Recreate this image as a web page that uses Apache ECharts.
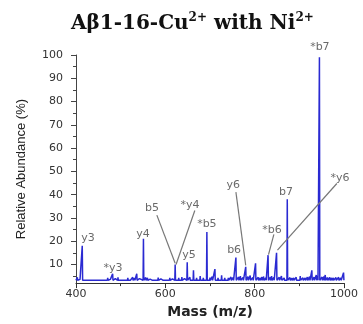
<!DOCTYPE html>
<html>
<head>
<meta charset="utf-8">
<script src="https://cdn.jsdelivr.net/npm/echarts@6/dist/echarts.min.js"></script>
<style>
html, body { margin: 0; padding: 0; background: #fff; }
#chart { width: 363px; height: 324px; }
</style>
</head>
<body>
<div id="chart"></div>
<script>
// axis ticks
var yTicks = [10, 20, 30, 40, 50, 60, 70, 80, 90, 100];
var yMinorTicks = [5, 15, 25, 35, 45, 55, 65, 75, 85, 95];

// labelled fragment peaks (m/z, relative abundance %)
var peakMass = [414, 482, 551, 622, 649, 693, 758, 780, 802, 830, 849, 873, 945];
var peakHeight = [18, 6, 21, 10, 11, 24, 13, 9, 10.5, 14, 15, 38, 99];

// small unlabelled peaks along the baseline
var noiseMass = [403, 405, 409, 418, 425, 432, 439, 446, 453, 460, 466, 471, 477, 488, 494, 502, 508, 516,
    521, 527, 531, 536, 542, 556, 560, 566, 572, 578, 584, 590, 596, 603, 610, 616, 630, 637, 643, 655,
    663, 670, 678, 685, 700, 705, 711, 718, 726, 733, 741, 747, 752, 764, 768, 774, 785, 790, 796, 808,
    812, 816, 820, 825, 835, 838, 843, 855, 860, 866, 879, 883, 887, 893, 902, 908, 913, 918, 923, 928,
    933, 938, 941, 951, 955, 958, 963, 968, 972, 976, 982, 988, 993, 999];
var noiseHeight = [4.5, 4, 3.6, 3.5, 3.7, 3.8, 3.5, 4, 3.7, 3.6, 3.8, 4.2, 3.6, 3.9, 4.5, 3.8, 3.6, 4.2,
    3.8, 4.5, 4.1, 6, 3.9, 4.4, 4.2, 3.7, 3.8, 3.6, 4.4, 3.8, 3.7, 4, 4.2, 3.8, 4.3, 4.6, 3.9, 4.5,
    7.5, 4.2, 5, 4.3, 4.4, 4.8, 8, 4.2, 5.4, 4.3, 4.2, 4.6, 4.4, 4.6, 5, 4.4, 4.8, 5.2, 4.4, 4.5,
    4.2, 4.6, 4.8, 4.2, 4.6, 5, 4.4, 4.5, 5, 4.2, 4.4, 4.1, 4.2, 4.5, 5, 4.3, 4.2, 4.6, 4.8, 7.5,
    4.6, 5.5, 5, 4.6, 4.8, 5.5, 4.4, 4.5, 4.2, 4.2, 4.4, 4.5, 4.2, 6.5];
var baseLevel = 3.2;

// annotation text and where it sits (data units)
var labelNames = ['y3', '*y3', 'y4', 'b5', '*y4', 'y5', '*b5', 'b6', 'y6', '*b6', 'b7', '*b7', '*y6'];
var labelMass = [427, 483, 550, 570, 655, 653, 693, 754, 752, 839, 870, 946, 991];
var labelValue = [21.2, 8.3, 22.9, 34.1, 35.3, 14.2, 27.4, 16.2, 44, 24.9, 41.1, 103.3, 47.3];

// leader lines: [fromMass, fromValue, toMass, toValue]
var leaderLines = [
    [581, 31.2, 622, 10.5],
    [666, 33.2, 624, 10],
    [758, 41.1, 780, 9.6],
    [843, 22.9, 831, 14.2],
    [984, 44.8, 851, 16.2]
];

function buildProfile() {
    var peaks = [];
    for (var i = 0; i < peakMass.length; i++) peaks.push([peakMass[i], peakHeight[i]]);
    for (var j = 0; j < noiseMass.length; j++) peaks.push([noiseMass[j], noiseHeight[j]]);
    peaks.sort(function (a, b) { return a[0] - b[0]; });
    var pts = [[400, baseLevel]];
    peaks.forEach(function (p) {
        pts.push([p[0] - 0.8, baseLevel]);
        pts.push([p[0], p[1]]);
        pts.push([p[0] + 0.8, baseLevel]);
    });
    pts.push([1000, baseLevel]);
    return pts;
}

var chart = echarts.init(document.getElementById('chart'));

var option = {
    animation: false,
    title: {
        text: '{a|Aβ1-16-Cu}{s|2+}{a| with Ni}{s|2+}',
        left: 66,
        top: 7,
        textStyle: {
            rich: {
                a: { fontFamily: 'DejaVu Serif', fontWeight: 'bold', fontSize: 20, color: '#111', lineHeight: 24 },
                s: { fontFamily: 'DejaVu Serif', fontWeight: 'bold', fontSize: 12, color: '#111', lineHeight: 13, verticalAlign: 'top' }
            }
        }
    },
    grid: { left: 76, right: 19, top: 55, bottom: 33 },
    xAxis: {
        type: 'value',
        min: 400,
        max: 1000,
        interval: 200,
        name: 'Mass (m/z)',
        nameLocation: 'middle',
        nameGap: 21,
        nameTextStyle: { fontFamily: 'DejaVu Sans', fontWeight: 'bold', fontSize: 14, color: '#222' },
        axisLine: { lineStyle: { color: '#333', width: 1 } },
        axisTick: { length: 5, lineStyle: { color: '#333' } },
        minorTick: { show: true, splitNumber: 2, length: 3, lineStyle: { color: '#333' } },
        axisLabel: {
            fontFamily: 'DejaVu Sans', fontSize: 11, color: '#333', margin: 6,
            formatter: function (v) { return String(v); }
        },
        splitLine: { show: false }
    },
    yAxis: [{
        type: 'value',
        min: 2,
        max: 100,
        name: 'Relative Abundance (%)',
        nameLocation: 'middle',
        nameGap: 48,
        nameTextStyle: { fontFamily: 'Liberation Sans', fontSize: 13, color: '#222' },
        axisLine: { show: true, lineStyle: { color: '#444', width: 1 } },
        axisTick: { show: true, length: 5, customValues: yTicks, lineStyle: { color: '#444' } },
        axisLabel: { customValues: yTicks, fontFamily: 'DejaVu Sans', fontSize: 11, color: '#333', margin: 13 },
        splitLine: { show: false }
    }, {
        type: 'value',
        min: 2,
        max: 100,
        position: 'left',
        axisLine: { show: false },
        axisTick: { show: true, length: 3, customValues: yMinorTicks, lineStyle: { color: '#444' } },
        axisLabel: { show: false },
        splitLine: { show: false }
    }],
    series: [{
        type: 'line',
        data: buildProfile(),
        showSymbol: false,
        symbol: 'none',
        lineStyle: { color: '#2a2ad2', width: 1.5 },
        silent: true
    }, {
        type: 'scatter',
        clip: false,
        symbolSize: 0,
        data: labelNames.map(function (n, i) {
            return { name: n, value: [labelMass[i], labelValue[i]] };
        }),
        label: {
            show: true,
            position: 'inside',
            formatter: '{b}',
            fontFamily: 'DejaVu Sans',
            fontSize: 11,
            color: '#444'
        },
        markLine: {
            silent: true,
            symbol: ['none', 'none'],
            label: { show: false },
            lineStyle: { color: '#777', width: 1.2, type: 'solid' },
            data: leaderLines.map(function (l) {
                return [{ coord: [l[0], l[1]] }, { coord: [l[2], l[3]] }];
            })
        }
    }]
};

chart.setOption(option);
</script>
</body>
</html>
